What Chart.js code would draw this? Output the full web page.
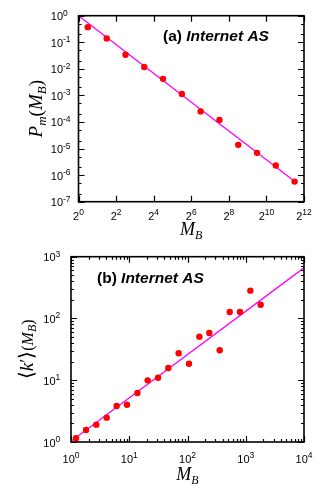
<!DOCTYPE html>
<html>
<head>
<meta charset="utf-8">
<script src="https://cdn.jsdelivr.net/npm/chart.js@4.4.1/dist/chart.umd.min.js"></script>
<style>
  html, body { margin: 0; padding: 0; background: #fff; }
  .box { position: relative; width: 327px; height: 242px; }
  canvas { display: block; }
</style>
</head>
<body>
<div class="box"><canvas id="chartA" width="327" height="242"></canvas></div>
<div class="box"><canvas id="chartB" width="327" height="242"></canvas></div>
<script>
// (a) size distribution of boxes, log2 bins
const mbA = [1.41, 2.83, 5.66, 11.3, 22.6, 45.3, 90.5, 181, 362, 724, 1448, 2896];
const pmA = [0.37, 0.14, 0.034, 0.0118, 0.0042, 0.00114, 2.5e-4, 1.2e-4, 1.38e-5, 6.9e-6, 2.3e-6, 5.7e-7];
const fitAX = [1, 3100];
const fitAY = [1.0, 5.2e-7];

// (b) mean degree vs box mass
const mbB = [1.22, 1.81, 2.72, 4.1, 6.08, 9.15, 13.8, 20.7, 31.2, 46.9, 70.5, 106, 160, 237, 357, 530, 797, 1200, 1803];
const kB = [1.15, 1.56, 1.91, 2.48, 3.83, 4.02, 6.21, 9.96, 11.0, 15.8, 27.3, 18.5, 50.7, 58.2, 30.5, 127, 127, 282, 167];
const fitBX = [1, 10000];
const fitBY = [1.03, 660];

// tick values and labels
const xTicksA = [1, 4, 16, 64, 256, 1024, 4096];
const xExpA = ['0', '2', '4', '6', '8', '10', '12'];
const yTicksA = [1, 1e-1, 1e-2, 1e-3, 1e-4, 1e-5, 1e-6, 1e-7];
const yExpA = ['0', '-1', '-2', '-3', '-4', '-5', '-6', '-7'];
const yMinorMultA = [2, 5];

const xTicksB = [1, 10, 100, 1000, 10000];
const xExpB = ['0', '1', '2', '3', '4'];
const yTicksB = [1, 10, 100, 1000];
const yExpB = ['0', '1', '2', '3'];
const minorMultB = [2, 3, 4, 5, 6, 7, 8, 9];

const SANS = '"Liberation Sans", Arial, Helvetica, sans-serif';
const SERIF = '"Liberation Serif", "Times New Roman", serif';
const BASE_FONT = `11px ${SANS}`;
const EXP_FONT = `8.5px ${SANS}`;

function minorTicks(decades, mults) {
    const out = [];
    decades.slice(0, -1).forEach((d) => mults.forEach((m) => out.push(d * m)));
    return out;
}

// draw a row of text pieces (sub/superscripts) starting at x
function runWidth(ctx, runs) {
    let w = 0;
    runs.forEach((r) => {
        ctx.font = r.font;
        r.w = ctx.measureText(r.t).width;
        w += r.w;
    });
    return w;
}

function drawRuns(ctx, runs, x, y, align) {
    const w = runWidth(ctx, runs);
    let cx = x;
    if (align === 'center') cx = x - w / 2;
    if (align === 'right') cx = x - w;
    ctx.textAlign = 'left';
    ctx.textBaseline = 'alphabetic';
    runs.forEach((r) => {
        ctx.font = r.font;
        ctx.fillText(r.t, cx, y + (r.dy || 0));
        cx += r.w;
    });
}

function makeFrame(cfg) {
    return {
        id: 'frame',
        afterDraw(chart) {
            const { ctx, chartArea: a } = chart;
            const xs = chart.scales.x;
            const ys = chart.scales.y;
            ctx.save();
            ctx.fillStyle = '#000';
            ctx.strokeStyle = '#000';

            // tick marks on all four sides, pointing inward
            ctx.lineWidth = 1.2;
            ctx.beginPath();
            const xt = (vals, len) => vals.forEach((v) => {
                const px = Math.round(xs.getPixelForValue(v)) + 0.5;
                ctx.moveTo(px, a.bottom); ctx.lineTo(px, a.bottom - len);
                ctx.moveTo(px, a.top); ctx.lineTo(px, a.top + len);
            });
            const yt = (vals, len) => vals.forEach((v) => {
                const py = Math.round(ys.getPixelForValue(v)) + 0.5;
                ctx.moveTo(a.left, py); ctx.lineTo(a.left + len, py);
                ctx.moveTo(a.right, py); ctx.lineTo(a.right - len, py);
            });
            xt(cfg.xMajor, 6);
            xt(cfg.xMinor, 3);
            yt(cfg.yMajor, 6);
            yt(cfg.yMinor, 3);
            ctx.stroke();

            ctx.lineWidth = 1.6;
            ctx.strokeRect(a.left, a.top, a.right - a.left, a.bottom - a.top);

            // tick labels
            cfg.xMajor.forEach((v, i) => {
                const px = xs.getPixelForValue(v);
                drawRuns(ctx, [
                    { t: cfg.xBase, font: BASE_FONT },
                    { t: cfg.xExp[i], font: EXP_FONT, dy: -5 },
                ], px, a.bottom + cfg.xLabelOffset, 'center');
            });
            cfg.yMajor.forEach((v, i) => {
                const py = ys.getPixelForValue(v);
                ctx.font = BASE_FONT;
                const bw = ctx.measureText('10').width;
                drawRuns(ctx, [
                    { t: '10', font: BASE_FONT },
                    { t: cfg.yExp[i], font: EXP_FONT, dy: -4.5 },
                ], a.left - 15.5 - bw, py + 4.5, 'left');
            });

            // x axis title
            drawRuns(ctx, cfg.xTitle, (a.left + a.right) / 2, cfg.xTitleY, 'center');

            // y axis title, rotated
            ctx.save();
            ctx.translate(cfg.yTitleX, (a.top + a.bottom) / 2);
            ctx.rotate(-Math.PI / 2);
            drawRuns(ctx, cfg.yTitle, 0, 0, 'center');
            ctx.restore();

            // panel label
            drawRuns(ctx, cfg.panel, cfg.panelX, cfg.panelY, 'left');
            ctx.restore();
        },
    };
}

function makeChart(canvasId, pts, fit, ranges, padding, frameCfg) {
    return new Chart(document.getElementById(canvasId), {
        type: 'scatter',
        data: {
            datasets: [
                {
                    data: pts,
                    pointRadius: 3.2,
                    pointBackgroundColor: '#ff0000',
                    pointBorderWidth: 0,
                    showLine: false,
                },
                {
                    data: fit,
                    showLine: true,
                    borderColor: '#ff00ff',
                    borderWidth: 1.3,
                    pointRadius: 0,
                    tension: 0,
                },
            ],
        },
        options: {
            responsive: false,
            animation: false,
            layout: { padding },
            scales: {
                x: { type: 'logarithmic', min: ranges.xMin, max: ranges.xMax, display: false },
                y: { type: 'logarithmic', min: ranges.yMin, max: ranges.yMax, display: false },
            },
            plugins: {
                legend: { display: false },
                tooltip: { enabled: false },
            },
        },
        plugins: [makeFrame(frameCfg)],
    });
}

const toPoints = (xs, ys) => xs.map((x, i) => ({ x, y: ys[i] }));

makeChart('chartA', toPoints(mbA, pmA), toPoints(fitAX, fitAY),
    { xMin: 1, xMax: 4096, yMin: 1e-7, yMax: 1 },
    { left: 78.5, right: 23, top: 15.7, bottom: 40.3 },
    {
        xMajor: xTicksA, xMinor: [], xBase: '2', xExp: xExpA, xLabelOffset: 18.5,
        yMajor: yTicksA, yMinor: minorTicks(yTicksA.slice().reverse(), yMinorMultA), yExp: yExpA,
        xTitle: [
            { t: 'M', font: `italic 18px ${SERIF}` },
            { t: 'B', font: `italic 12px ${SERIF}`, dy: 4 },
        ],
        xTitleY: 235,
        yTitle: [
            { t: 'P', font: `italic 19px ${SERIF}` },
            { t: 'm', font: `italic 13px ${SERIF}`, dy: 4 },
            { t: '(', font: `19px ${SERIF}` },
            { t: 'M', font: `italic 19px ${SERIF}` },
            { t: 'B', font: `italic 13px ${SERIF}`, dy: 4 },
            { t: ')', font: `19px ${SERIF}` },
        ],
        yTitleX: 42,
        panel: [
            { t: '(a) ', font: `bold 15.5px ${SANS}` },
            { t: 'Internet AS', font: `italic bold 15.5px ${SANS}` },
        ],
        panelX: 163,
        panelY: 41,
    });

makeChart('chartB', toPoints(mbB, kB), toPoints(fitBX, fitBY),
    { xMin: 1, xMax: 10000, yMin: 1, yMax: 1000 },
    { left: 71, right: 23, top: 14.7, bottom: 42 },
    {
        xMajor: xTicksB, xMinor: minorTicks(xTicksB, minorMultB), xBase: '10', xExp: xExpB, xLabelOffset: 20.5,
        yMajor: yTicksB, yMinor: minorTicks(yTicksB, minorMultB), yExp: yExpB,
        xTitle: [
            { t: 'M', font: `italic 18px ${SERIF}` },
            { t: 'B', font: `italic 12px ${SERIF}`, dy: 4 },
        ],
        xTitleY: 238,
        yTitle: [
            { t: '\u27E8', font: `20px ${SERIF}` },
            { t: 'k', font: `italic 19px ${SERIF}` },
            { t: '\u2032', font: `19px ${SERIF}` },
            { t: '\u27E9', font: `20px ${SERIF}` },
            { t: '(', font: `16px ${SERIF}` },
            { t: 'M', font: `italic 16px ${SERIF}` },
            { t: 'B', font: `italic 12px ${SERIF}`, dy: 3 },
            { t: ')', font: `16px ${SERIF}` },
        ],
        yTitleX: 33,
        panel: [
            { t: '(b) ', font: `bold 15.5px ${SANS}` },
            { t: 'Internet AS', font: `italic bold 15.5px ${SANS}` },
        ],
        panelX: 97,
        panelY: 41,
    });
</script>
</body>
</html>
